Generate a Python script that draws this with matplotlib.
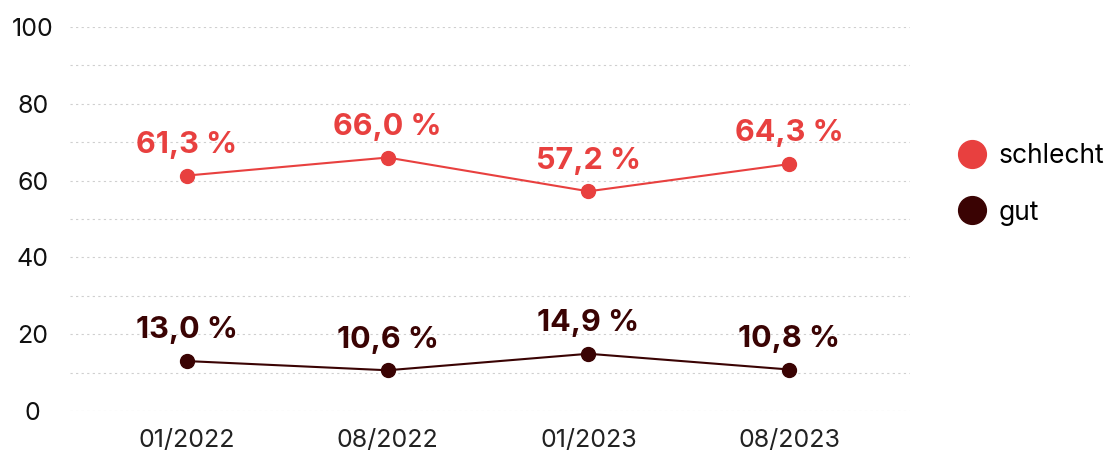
import matplotlib.pyplot as plt

plt.rcParams['font.family'] = ['Inter', 'DejaVu Sans']

dates = ['01/2022', '08/2022', '01/2023', '08/2023']
schlecht = [61.3, 66.0, 57.2, 64.3]
gut = [13.0, 10.6, 14.9, 10.8]
yticks = [0, 20, 40, 60, 80, 100]

red = '#E8403F'
dark = '#3A0303'

fig = plt.figure(figsize=(11.15, 4.57), dpi=100)
ax = fig.add_axes([0.063, 0.1007, 0.753, 0.8403])

x = list(range(len(dates)))

# hilfslinien alle 10
for v in range(0, 101, 10):
    ax.axhline(v, color='#cfcfcf', lw=0.8, ls=(0, (2, 3)), zorder=0)

ax.plot(x, schlecht, color=red, lw=1.5, marker='o', ms=10, label='schlecht', zorder=3)
ax.plot(x, gut, color=dark, lw=1.5, marker='o', ms=10, label='gut', zorder=3)

for xi, v in zip(x, schlecht):
    ax.annotate(f'{v:.1f} %'.replace('.', ','), (xi, v), xytext=(0, 12),
                textcoords='offset points', ha='center', va='bottom',
                fontsize=22, fontweight='bold', color=red)
for xi, v in zip(x, gut):
    ax.annotate(f'{v:.1f} %'.replace('.', ','), (xi, v), xytext=(0, 12),
                textcoords='offset points', ha='center', va='bottom',
                fontsize=22, fontweight='bold', color=dark)

ax.set_xlim(-0.58, 3.6)
ax.set_ylim(0, 100)
ax.set_xticks(x)
ax.set_xticklabels(dates, fontsize=18, color='#222222')
ax.set_yticks(yticks)
ax.set_yticklabels([str(t) for t in yticks], fontsize=18, color='#111111', ha='center')
ax.tick_params(axis='y', length=0, pad=27)
ax.tick_params(axis='x', length=0, pad=13)
for s in ax.spines.values():
    s.set_visible(False)

leg = ax.legend(loc='center left', bbox_to_anchor=(1.03, 0.59), frameon=False,
                fontsize=19, handlelength=1.0, handletextpad=0.5, labelspacing=1.15,
                markerscale=2.0)
for h in leg.legend_handles:
    h.set_linestyle('')

fig.savefig('out.png', dpi=100)
